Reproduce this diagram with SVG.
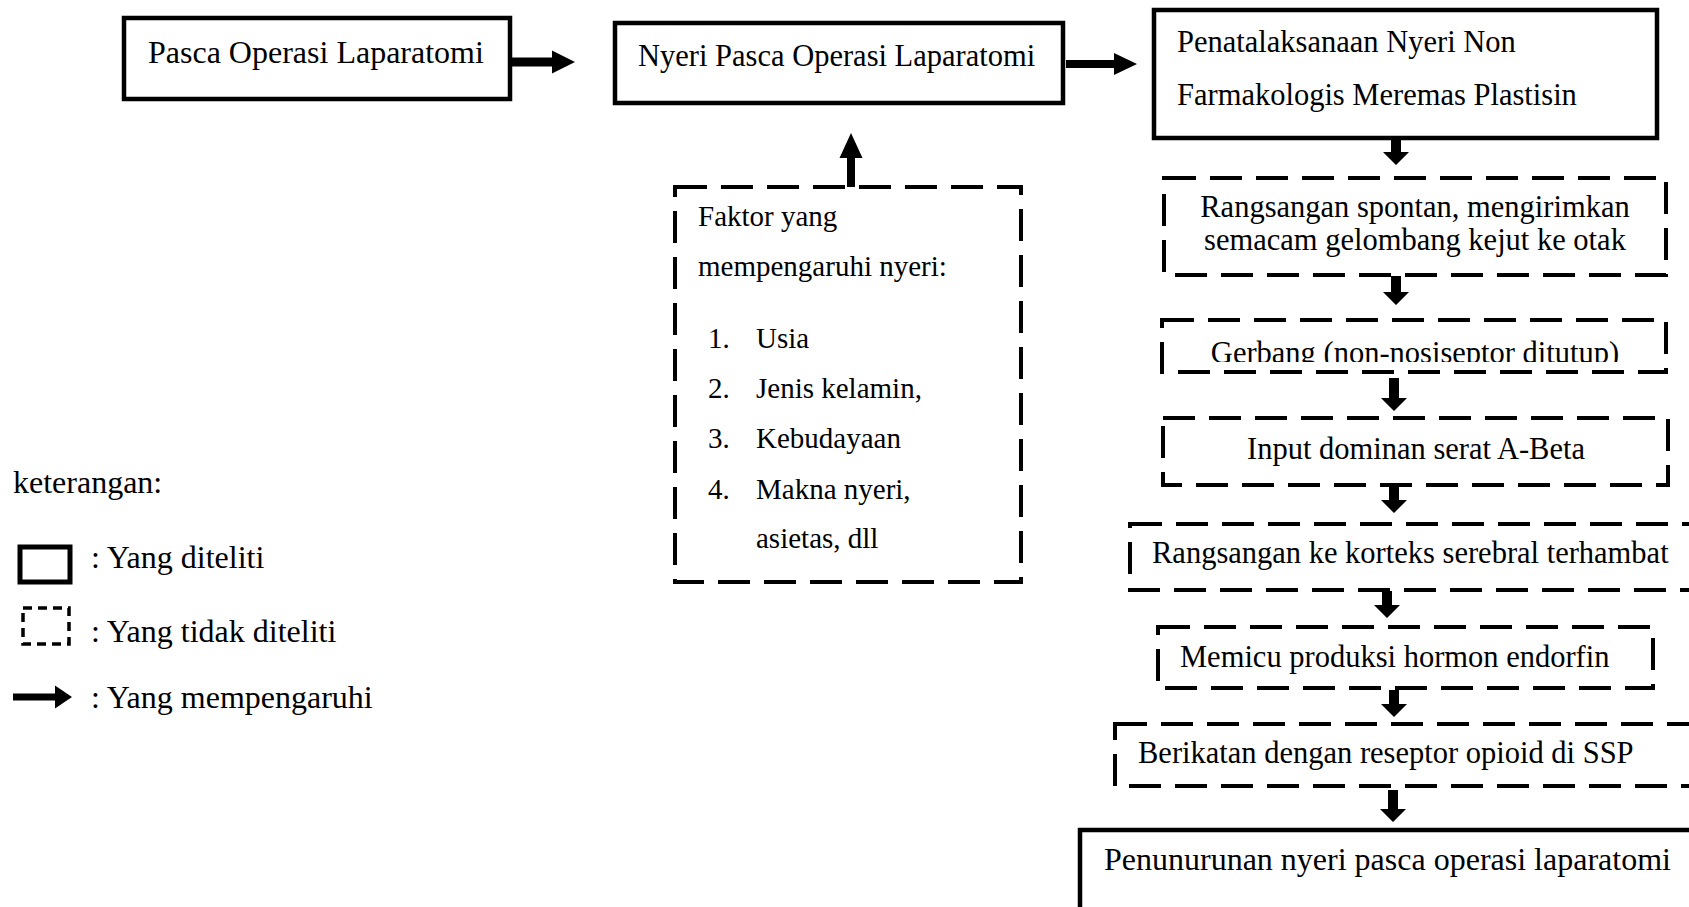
<svg xmlns="http://www.w3.org/2000/svg" width="1689" height="907" viewBox="0 0 1689 907">
<style>
text{font-family:"Liberation Serif","Times New Roman",serif;font-size:30.5px;fill:#000}
.solid{fill:#fff;stroke:#000;stroke-width:4.5}
.dash{fill:#fff;stroke:#000;stroke-width:4;stroke-dasharray:32 14}
.c{text-anchor:middle}
.f{font-size:29px}
.lg{font-size:32px}
.big{font-size:32px}
.arr{fill:#000}
</style>
<defs>
<clipPath id="clipG"><rect x="1160" y="320" width="520" height="42"/></clipPath>
</defs>
<rect width="1689" height="907" fill="#fff"/>

<g id="connectors">
<path class="arr" d="M512 57.5 H552 V50.5 L575 62 L552 73.5 V66.5 H512 Z"/>
<path class="arr" d="M1066 60 H1114 V53 L1137 64 L1114 75 V68 H1066 Z"/>
<path class="arr" d="M847 187 V158 H839.5 L851 133 L862.5 158 H855 V187 Z"/>
<path class="arr" d="M1391 140 V152 H1383 L1396 165 L1409 152 H1401 V140 Z"/>
<path class="arr" d="M1391 276 V292 H1383 L1396 305 L1409 292 H1401 V276 Z"/>
<path class="arr" d="M1389 378 V398 H1381 L1394 411 L1407 398 H1399 V378 Z"/>
<path class="arr" d="M1389 486 V500 H1381 L1394 513 L1407 500 H1399 V486 Z"/>
<path class="arr" d="M1382 591 V605 H1374 L1387 618 L1400 605 H1392 V591 Z"/>
<path class="arr" d="M1389 690 V704 H1381 L1394 717 L1407 704 H1399 V690 Z"/>
<path class="arr" d="M1388 790 V809 H1380 L1393 822 L1406 809 H1398 V790 Z"/>
</g>

<g id="node-pasca">
<rect class="solid" x="124" y="18" width="386" height="81"/>
<text class="big" x="148" y="63">Pasca Operasi Laparatomi</text>
</g>

<g id="node-nyeri">
<rect class="solid" x="615" y="23" width="448" height="80"/>
<text x="638" y="66">Nyeri Pasca Operasi Laparatomi</text>
</g>

<g id="node-penatalaksanaan">
<rect class="solid" x="1154" y="10" width="503" height="128" stroke-width="5"/>
<text x="1177" y="52">Penatalaksanaan Nyeri Non</text>
<text x="1177" y="105">Farmakologis Meremas Plastisin</text>
</g>

<g id="node-faktor">
<rect class="dash" x="675" y="187" width="346" height="395"/>
<text class="f" x="698" y="226">Faktor yang</text>
<text class="f" x="698" y="276">mempengaruhi nyeri:</text>
<text class="f" x="708" y="348">1.</text><text class="f" x="756" y="348">Usia</text>
<text class="f" x="708" y="398">2.</text><text class="f" x="756" y="398">Jenis kelamin,</text>
<text class="f" x="708" y="448">3.</text><text class="f" x="756" y="448">Kebudayaan</text>
<text class="f" x="708" y="499">4.</text><text class="f" x="756" y="499">Makna nyeri,</text>
<text class="f" x="756" y="548">asietas, dll</text>
</g>

<g id="node-rangsangan">
<rect class="dash" x="1164" y="178" width="502" height="97"/>
<text class="c" x="1415" y="217">Rangsangan spontan, mengirimkan</text>
<text class="c" x="1415" y="250">semacam gelombang kejut ke otak</text>
</g>

<g id="node-gerbang">
<rect class="dash" x="1162" y="320" width="504" height="52"/>
<text class="c" x="1415" y="363" clip-path="url(#clipG)">Gerbang (non-nosiseptor ditutup)</text>
</g>

<g id="node-input">
<rect class="dash" x="1163" y="418" width="505" height="67"/>
<text class="c" x="1416" y="459">Input dominan serat A-Beta</text>
</g>

<g id="node-korteks">
<rect class="dash" x="1130" y="524" width="580" height="66"/>
<text x="1152" y="563">Rangsangan ke korteks serebral terhambat</text>
</g>

<g id="node-memicu">
<rect class="dash" x="1158" y="627" width="495" height="61"/>
<text x="1180" y="667">Memicu produksi hormon endorfin</text>
</g>

<g id="node-berikatan">
<rect class="dash" x="1115" y="724" width="590" height="62"/>
<text x="1138" y="763">Berikatan dengan reseptor opioid di SSP</text>
</g>

<g id="node-penunurunan">
<rect class="solid" x="1080" y="830" width="640" height="100" stroke-width="5"/>
<text class="big" x="1104" y="870">Penunurunan nyeri pasca operasi laparatomi</text>
</g>

<g id="legend">
<text class="lg" x="13" y="493">keterangan:</text>
<rect x="20" y="547" width="50" height="35" fill="none" stroke="#000" stroke-width="5"/>
<text class="lg" x="91" y="568">: Yang diteliti</text>
<rect x="23" y="608" width="46" height="36" fill="none" stroke="#000" stroke-width="3.5" stroke-dasharray="9 6"/>
<text class="lg" x="91" y="642">: Yang tidak diteliti</text>
<path class="arr" d="M13 693.5 H55 V685.5 L72 697 L55 708.5 V700.5 H13 Z"/>
<text class="lg" x="91" y="708">: Yang mempengaruhi</text>
</g>
</svg>
